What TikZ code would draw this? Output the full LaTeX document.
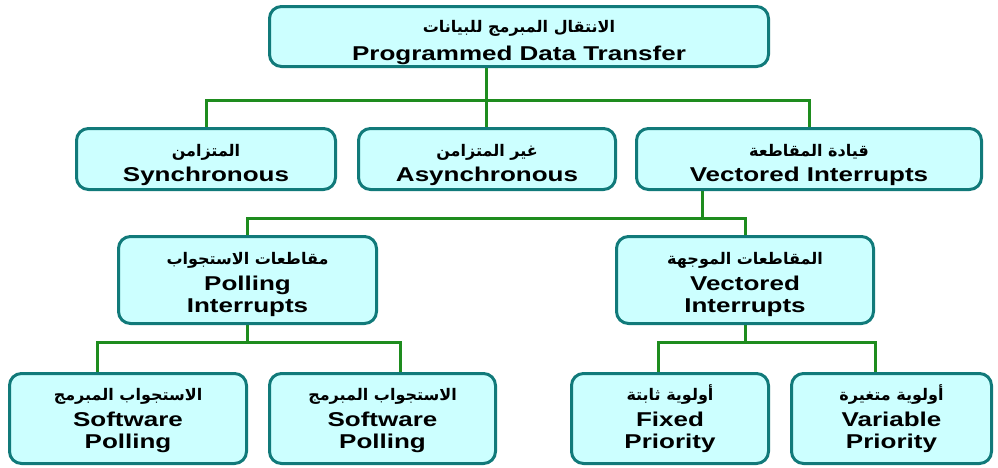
\documentclass[tikz,border=0pt]{standalone}
\usepackage{fontspec}
\setmainfont[FakeStretch=1.3]{Liberation Sans}
\newfontfamily\arabicfont[Script=Arabic]{DejaVu Sans}
\TeXXeTstate=1
\usetikzlibrary{backgrounds}
\definecolor{boxfill}{HTML}{CCFFFF}
\definecolor{boxline}{HTML}{117A7A}
\definecolor{linkgreen}{HTML}{1E8C1E}
\tikzset{
  box/.style={draw=boxline, line width=3pt, fill=boxfill, rounded corners=12pt, inner sep=0pt},
  lbl/.style={align=center, anchor=base, font=\fontsize{20}{22}\selectfont\bfseries, inner sep=0pt},
  link/.style={draw=linkgreen, line width=3pt},
}
\newcommand\artxt[1]{{\arabicfont\bfseries\fontsize{16}{22}\selectfont\beginR #1\endR}}
\begin{document}
\begin{tikzpicture}[x=1pt,y=-1pt]
\useasboundingbox (0,0) rectangle (998,467);
% boxes
\node[box, minimum width=499pt, minimum height=60pt] (top) at (519,36.5) {};
\node[box, minimum width=259pt, minimum height=61pt] (r2a) at (206,159) {};
\node[box, minimum width=257pt, minimum height=61pt] (r2b) at (487,159) {};
\node[box, minimum width=345pt, minimum height=61pt] (r2c) at (809,159) {};
\node[box, minimum width=258pt, minimum height=87pt] (r3a) at (247.5,280) {};
\node[box, minimum width=257pt, minimum height=87pt] (r3b) at (745,280) {};
\node[box, minimum width=237pt, minimum height=90pt] (r4a) at (128,418.5) {};
\node[box, minimum width=226pt, minimum height=90pt] (r4b) at (382.5,418.5) {};
\node[box, minimum width=197pt, minimum height=90pt] (r4c) at (670,418.5) {};
\node[box, minimum width=200pt, minimum height=90pt] (r4d) at (891.5,418.5) {};
% labels (anchor = baseline of last line)
\node[lbl] (top-t) at (519,60) {\artxt{الانتقال المبرمج للبيانات}\\[6pt]Programmed Data Transfer};
\node[lbl] (r2a-t) at (206,181) {\artxt{المتزامن}\\[3pt]Synchronous};
\node[lbl] (r2b-t) at (487,181) {\artxt{غير المتزامن}\\[3pt]Asynchronous};
\node[lbl] (r2c-t) at (809,181) {\artxt{قيادة المقاطعة}\\[3pt]Vectored Interrupts};
\node[lbl] (r3a-t) at (247.5,312) {\artxt{مقاطعات الاستجواب}\\[4pt]Polling\\Interrupts};
\node[lbl] (r3b-t) at (745,312) {\artxt{المقاطعات الموجهة}\\[4pt]Vectored\\Interrupts};
\node[lbl] (r4a-t) at (128,448) {\artxt{الاستجواب المبرمج}\\[4pt]Software\\Polling};
\node[lbl] (r4b-t) at (382.5,448) {\artxt{الاستجواب المبرمج}\\[4pt]Software\\Polling};
\node[lbl] (r4c-t) at (670,448) {\artxt{أولوية ثابتة}\\[4pt]Fixed\\Priority};
\node[lbl] (r4d-t) at (891.5,448) {\artxt{أولوية متغيرة}\\[4pt]Variable\\Priority};
% connectors
\begin{scope}[on background layer]
\coordinate (j1) at (486,100);
\draw[link] (top.south -| j1) -- (j1);
\draw[link] (r2a.north) |- (j1) -| (r2c.north);
\draw[link] (j1) -- (r2b.north -| j1);
\coordinate (j2) at (702,218);
\draw[link] (r2c.south -| j2) -- (j2);
\draw[link] (r3a.north) |- (j2) -| (r3b.north);
\coordinate (d4a) at (97,342);
\coordinate (d4b) at (400,342);
\draw[link] (r3a.south) -- (r3a.south |- d4a);
\draw[link] (d4a |- r4a.north) -- (d4a) -- (d4b) -- (d4b |- r4b.north);
\coordinate (d4c) at (658,342);
\coordinate (d4d) at (875,342);
\draw[link] (r3b.south) -- (r3b.south |- d4c);
\draw[link] (d4c |- r4c.north) -- (d4c) -- (d4d) -- (d4d |- r4d.north);
\end{scope}
\end{tikzpicture}
\end{document}
